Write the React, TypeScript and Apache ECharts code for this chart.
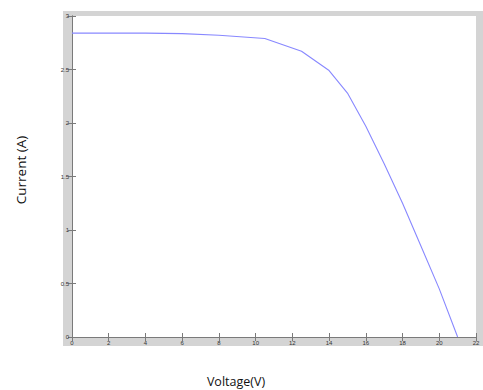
import React, { useEffect, useRef } from "react";
import * as echarts from "echarts";

const voltage = [0, 2, 4, 6, 8, 10.5, 12.5, 14, 15, 16, 17, 18, 19, 20, 21];
const current = [2.84, 2.84, 2.84, 2.835, 2.82, 2.79, 2.67, 2.49, 2.28, 1.97, 1.62, 1.25, 0.85, 0.45, 0.0];
const xLabel = "Voltage(V)";
const yLabel = "Current (A)";

export default function App() {
  const ref = useRef<HTMLDivElement>(null);
  useEffect(() => {
    if (!ref.current) return;
    const chart = echarts.init(ref.current, undefined, { renderer: "svg" });
    const tickLabel = { fontSize: 6, color: "#333", fontFamily: "Liberation Sans" };
    const axisLine = { show: true, lineStyle: { color: "#7a7a7a", width: 1 } };
    const axisTick = { show: true, inside: true, length: 4, lineStyle: { color: "#7a7a7a" } };
    chart.setOption({
      animation: false,
      backgroundColor: "#ffffff",
      graphic: [
        { type: "rect", z: -10, shape: { x: 63, y: 11, width: 420, height: 335 }, style: { fill: "#d4d4d4" } },
        { type: "rect", z: -9, shape: { x: 72, y: 16, width: 404, height: 321 }, style: { fill: "#ffffff" } },
        {
          type: "text", x: 236, y: 381,
          style: { text: xLabel, fontSize: 12.5, fontFamily: "Open Sans", fill: "#111", align: "center", verticalAlign: "middle" },
        },
        {
          type: "text", x: 21, y: 170, rotation: Math.PI / 2,
          style: { text: yLabel, fontSize: 13.5, fontFamily: "Open Sans", fill: "#111", align: "center", verticalAlign: "middle" },
        },
      ],
      grid: { left: 72, top: 16, right: 7, bottom: 53, containLabel: false },
      xAxis: [
        {
          type: "value", min: 0, max: 22, interval: 2, position: "bottom",
          axisLine, axisTick, splitLine: { show: false },
          axisLabel: { ...tickLabel, margin: 3 },
        },
        {
          type: "value", min: 0, max: 22, interval: 2, position: "top",
          axisLine, axisTick, splitLine: { show: false }, axisLabel: { show: false },
        },
      ],
      yAxis: [
        {
          type: "value", min: 0, max: 3, interval: 0.5, position: "left",
          axisLine, axisTick, splitLine: { show: false },
          axisLabel: { ...tickLabel, margin: 3 },
        },
        {
          type: "value", min: 0, max: 3, interval: 0.5, position: "right",
          axisLine, axisTick, splitLine: { show: false }, axisLabel: { show: false },
        },
      ],
      series: [
        {
          type: "line",
          data: voltage.map((v, i) => [v, current[i]]),
          showSymbol: false,
          lineStyle: { color: "#8888ff", width: 1.1 },
        },
      ],
    });
    return () => chart.dispose();
  }, []);
  return <div ref={ref} style={{ position: "absolute", left: 0, top: 0, width: 483, height: 390 }} />;
}
